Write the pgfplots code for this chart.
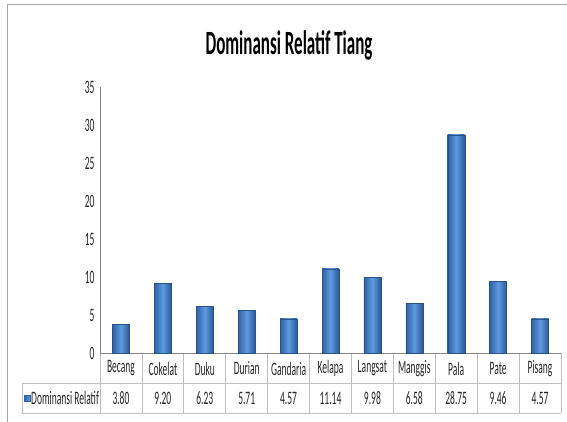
\documentclass[border=0pt]{standalone}
\usepackage{pgfplots}
\pgfplotsset{compat=1.18}
\usepackage{pgfplotstable}
\usepackage{fontspec}
\setmainfont{Carlito}[FakeStretch=0.5]

\definecolor{bardark}{HTML}{2F62A6}
\definecolor{barlight}{HTML}{5F9AE0}
\definecolor{framegray}{HTML}{A6A6A6}
\definecolor{tablegray}{HTML}{BFBFBF}
\definecolor{axisgray}{HTML}{868686}

\pgfplotstableread{
idx name val
0 Becang 3.80
1 Cokelat 9.20
2 Duku 6.23
3 Durian 5.71
4 Gandaria 4.57
5 Kelapa 11.14
6 Langsat 9.98
7 Manggis 6.58
8 Pala 28.75
9 Pate 9.46
10 Pisang 4.57
}\datatable

\begin{document}
\begin{tikzpicture}
\useasboundingbox (0,0) rectangle (567pt,422pt);
% outer frame (top and left edges only)
\draw[framegray, line width=1pt] (7pt,0) -- (7pt,417pt) -- (567pt,417pt);

% data table under the plot
\draw[tablegray, line width=0.8pt] (22pt,39pt) -- (561pt,39pt);
\draw[tablegray, line width=0.8pt] (22pt,9pt) -- (561pt,9pt);
\draw[tablegray, line width=0.8pt] (22pt,39pt) -- (22pt,9pt);
\foreach \i in {0,...,11}
  \draw[tablegray, line width=0.8pt] ({100pt+\i*41.909pt},68.5pt) -- ({100pt+\i*41.909pt},9pt);

\begin{axis}[
    at={(100pt,68.5pt)},
    anchor=south west,
    scale only axis,
    width=461pt,
    height=266pt,
    xmin=-0.5, xmax=10.5,
    ymin=0, ymax=35,
    ytick={0,5,...,35},
    xtick={0,...,10},
    xticklabels from table={\datatable}{name},
    extra x ticks={0,...,10},
    extra x tick labels={3.80,9.20,6.23,5.71,4.57,11.14,9.98,6.58,28.75,9.46,4.57},
    extra x tick style={xticklabel style={yshift=-29.5pt}},
    axis lines*=left,
    axis line style={axisgray, line width=0.8pt},
    major tick length=0pt,
    clip=false,
    /pgf/number format/assume math mode=true,
    tick label style={font=\fontsize{19}{19}\selectfont, text=black!85},
    xticklabel style={anchor=center, yshift=-15pt},
    yticklabel style={anchor=east, xshift=-2pt},
    title={\textbf{Dominansi Relatif Tiang}},
    title style={font=\fontsize{34}{34}\selectfont, at={(0.41,1)}, anchor=center, yshift=36pt},
]
% one plot per bar so that each bar gets its own shading
\pgfplotsinvokeforeach{0,...,10}{
  \addplot[ybar, bar width=17pt, draw=bardark!85!black, line width=0.3pt,
    left color=bardark, right color=bardark!90!black, middle color=barlight,
    restrict expr to domain={\coordindex}{#1:#1}]
    table[x=idx, y=val] {\datatable};
}
\end{axis}

% legend key of the data table
\fill[left color=bardark, right color=barlight, draw=bardark] (24.5pt,21pt) rectangle (30pt,26.5pt);
\node[anchor=west, inner sep=0pt, font=\fontsize{19}{19}\selectfont, text=black!85] at (31pt,24pt) {Dominansi Relatif};
\end{tikzpicture}
\end{document}
